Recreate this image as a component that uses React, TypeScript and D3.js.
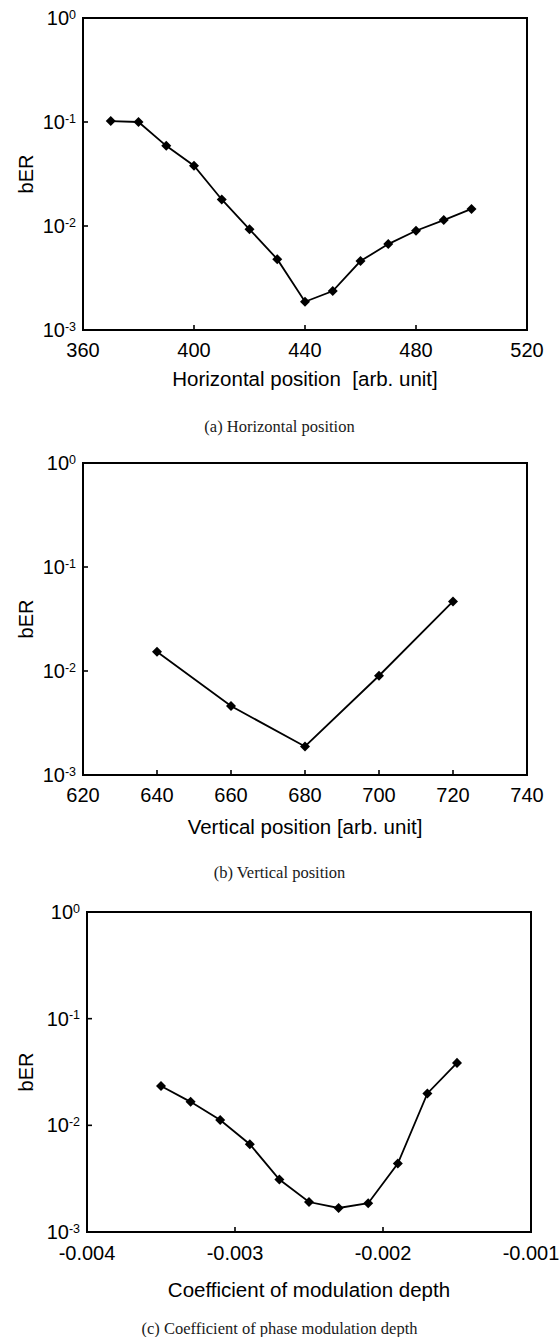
import React from "react";
import * as d3 from "d3";

// Panel (a) Horizontal position
const horizX = [370, 380, 390, 400, 410, 420, 430, 440, 450, 460, 470, 480, 490, 500];
const horizBER = [0.102, 0.1, 0.059, 0.038, 0.018, 0.0093, 0.0048, 0.00187, 0.00237, 0.0046, 0.0067, 0.009, 0.0114, 0.0146];
const horizTicks = [360, 400, 440, 480, 520];

// Panel (b) Vertical position
const vertX = [640, 660, 680, 700, 720];
const vertBER = [0.0153, 0.0046, 0.00188, 0.009, 0.0467];
const vertTicks = [620, 640, 660, 680, 700, 720, 740];

// Panel (c) Coefficient of phase modulation depth
const coefX = [-0.0035, -0.0033, -0.0031, -0.0029, -0.0027, -0.0025, -0.0023, -0.0021, -0.0019, -0.0017, -0.0015];
const coefBER = [0.0234, 0.0166, 0.0112, 0.00665, 0.0031, 0.00191, 0.00168, 0.00186, 0.00438, 0.0199, 0.0385];
const coefTicks = [-0.004, -0.003, -0.002, -0.001];

const yExponents = [0, -1, -2, -3];

const SANS = "'Liberation Sans', Arial, sans-serif";
const SERIF = "'Liberation Serif', 'Times New Roman', serif";

type PanelProps = {
  xs: number[];
  ys: number[];
  xTicks: number[];
  xDomain: [number, number];
  xFormat: (v: number) => string;
  left: number;
  right: number;
  top: number;
  bottom: number;
  xTitle: string;
  caption: string;
  tickDy: number;
  titleDy: number;
  captionY: number;
};

function Panel(p: PanelProps) {
  const x = d3.scaleLinear().domain(p.xDomain).range([p.left, p.right]);
  const y = d3.scaleLog().domain([1e-3, 1]).range([p.bottom, p.top]);
  const pts: [number, number][] = p.xs.map((v, i) => [x(v), y(p.ys[i])]);
  const line = d3.line()(pts) || "";
  const diamond = d3.symbol().type(d3.symbolDiamond2).size(64)() || "";
  const tickLen = 5;
  const cy = (p.top + p.bottom) / 2;
  const cx = (p.left + p.right) / 2;
  return (
    <g>
      {p.xTicks
        .filter((t) => t !== p.xDomain[0] && t !== p.xDomain[1])
        .map((t) => (
          <line key={"xt" + t} x1={x(t)} x2={x(t)} y1={p.bottom} y2={p.bottom - tickLen} stroke="#000" strokeWidth={1.6} />
        ))}
      {yExponents
        .filter((e) => e !== 0 && e !== -3)
        .map((e) => (
          <line key={"yt" + e} x1={p.left} x2={p.left + tickLen} y1={y(Math.pow(10, e))} y2={y(Math.pow(10, e))} stroke="#000" strokeWidth={1.6} />
        ))}
      <rect x={p.left} y={p.top} width={p.right - p.left} height={p.bottom - p.top} fill="none" stroke="#000" strokeWidth={2} />
      <path d={line} fill="none" stroke="#000" strokeWidth={1.8} />
      {pts.map(([px, py], i) => (
        <path key={"m" + i} d={diamond} transform={`translate(${px},${py})`} fill="#000" />
      ))}
      {p.xTicks.map((t) => (
        <text key={"xl" + t} x={x(t)} y={p.bottom + p.tickDy} textAnchor="middle" fontFamily={SANS} fontSize={20} fill="#000">
          {p.xFormat(t)}
        </text>
      ))}
      {yExponents.map((e) => (
        <text key={"yl" + e} x={p.left - 7} y={y(Math.pow(10, e)) + 7} textAnchor="end" fontFamily={SANS} fontSize={20} fill="#000">
          <tspan>10</tspan>
          <tspan fontSize={12.5} dy={-6.5}>{String(e)}</tspan>
        </text>
      ))}
      <text x={33} y={cy} transform={`rotate(-90,33,${cy})`} textAnchor="middle" fontFamily={SANS} fontSize={20} fill="#000">
        bER
      </text>
      <text x={cx} y={p.bottom + p.titleDy} textAnchor="middle" fontFamily={SANS} fontSize={20.5} fill="#000" style={{ whiteSpace: "pre" }}>
        {p.xTitle}
      </text>
      <text x={279.5} y={p.captionY} textAnchor="middle" fontFamily={SERIF} fontSize={16.5} fill="#1a1a1a">
        {p.caption}
      </text>
    </g>
  );
}

export default function App() {
  const intFmt = (v: number) => String(v);
  const coefFmt = (v: number) => d3.format(".3f")(v).replace("−", "-");
  return (
    <svg width={559} height={1337} style={{ position: "absolute", left: 0, top: 0, background: "#fff" }}>
      <rect x={0} y={0} width={559} height={1337} fill="#fff" />
      <Panel
        xs={horizX}
        ys={horizBER}
        xTicks={horizTicks}
        xDomain={[360, 520]}
        xFormat={intFmt}
        left={83}
        right={527}
        top={18}
        bottom={330}
        xTitle={"Horizontal position  [arb. unit]"}
        caption="(a) Horizontal position"
        tickDy={27}
        titleDy={56}
        captionY={432}
      />
      <Panel
        xs={vertX}
        ys={vertBER}
        xTicks={vertTicks}
        xDomain={[620, 740]}
        xFormat={intFmt}
        left={83}
        right={527}
        top={463}
        bottom={775}
        xTitle="Vertical position [arb. unit]"
        caption="(b) Vertical position"
        tickDy={27}
        titleDy={59}
        captionY={878}
      />
      <Panel
        xs={coefX}
        ys={coefBER}
        xTicks={coefTicks}
        xDomain={[-0.004, -0.001]}
        xFormat={coefFmt}
        left={87}
        right={531}
        top={912}
        bottom={1232}
        xTitle="Coefficient of modulation depth"
        caption="(c) Coefficient of phase modulation depth"
        tickDy={28}
        titleDy={65}
        captionY={1334}
      />
    </svg>
  );
}
